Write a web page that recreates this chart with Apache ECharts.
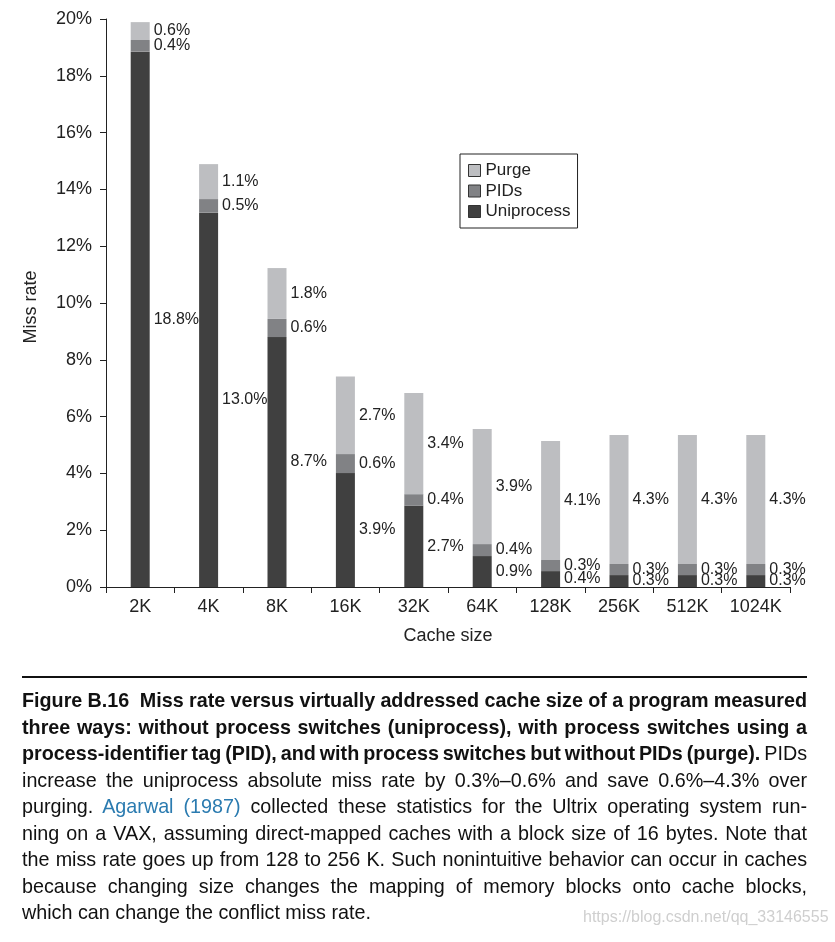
<!DOCTYPE html>
<html>
<head>
<meta charset="utf-8">
<script src="https://cdn.jsdelivr.net/npm/echarts@6/dist/echarts.min.js"></script>
<style>
  html, body { margin: 0; padding: 0; background: #fff; }
  #chart { position: absolute; left: 0; top: 0; width: 835px; height: 942px; }
  #rule { position: absolute; left: 22px; top: 676px; width: 785px; height: 2px; background: #111; }
  #caption { position: absolute; left: 22px; top: 687px;
    font-family: "Liberation Sans", Arial, sans-serif;
    font-size: 21px; color: #111; transform: scaleX(0.94); transform-origin: 0 0; }
  #caption .ln { height: 26.5px; line-height: 26.5px; white-space: nowrap; }
  #caption .ln span.t { display: inline-block; }
  #caption b { font-weight: bold; }
  #caption .link { color: #2b7bb0; }
  #wm { position: absolute; left: 583px; top: 908px; font-family: "Liberation Sans", sans-serif;
    font-size: 16px; color: #cfcfcf; }
</style>
</head>
<body>
<div id="chart"></div>
<div id="rule"></div>
<div id="caption">
  <div class="ln"><span class="t"><b>Figure B.16&nbsp; Miss rate versus virtually addressed cache size of a program measured</b></span></div>
  <div class="ln"><span class="t"><b>three ways: without process switches (uniprocess), with process switches using a</b></span></div>
  <div class="ln"><span class="t"><b>process-identifier tag (PID), and with process switches but without PIDs (purge).</b> PIDs</span></div>
  <div class="ln"><span class="t">increase the uniprocess absolute miss rate by 0.3%–0.6% and save 0.6%–4.3% over</span></div>
  <div class="ln"><span class="t">purging. <span class="link">Agarwal (1987)</span> collected these statistics for the Ultrix operating system run-</span></div>
  <div class="ln"><span class="t">ning on a VAX, assuming direct-mapped caches with a block size of 16 bytes. Note that</span></div>
  <div class="ln"><span class="t">the miss rate goes up from 128 to 256 K. Such nonintuitive behavior can occur in caches</span></div>
  <div class="ln"><span class="t">because changing size changes the mapping of memory blocks onto cache blocks,</span></div>
  <div class="ln last"><span class="t">which can change the conflict miss rate.</span></div>
</div>
<div id="wm">https://blog.csdn.net/qq_33146555</div>
<script>
// justify caption lines to 785px (allowing negative word spacing)
(function () {
  var S = 0.94, target = 785 / S;
  var lines = document.querySelectorAll('#caption .ln');
  for (var i = 0; i < lines.length; i++) {
    if (lines[i].classList.contains('last')) continue;
    var t = lines[i].querySelector('span.t');
    var w = t.getBoundingClientRect().width / S;
    var n = (t.textContent.match(/[ \u00a0]/g) || []).length;
    if (n > 0) t.style.wordSpacing = ((target - w) / n) + 'px';
  }
})();

// ---- data ----
var categories = ['2K', '4K', '8K', '16K', '32K', '64K', '128K', '256K', '512K', '1024K'];
var uniprocess = [18.85, 13.18, 8.80, 4.01, 2.86, 1.09, 0.56, 0.42, 0.42, 0.42];
var pids       = [0.41, 0.48, 0.64, 0.67, 0.41, 0.42, 0.39, 0.39, 0.39, 0.39];
var purge      = [0.63, 1.23, 1.79, 2.73, 3.56, 4.05, 4.19, 4.54, 4.54, 4.54];
var uniLabels   = ['18.8%', '13.0%', '8.7%', '3.9%', '2.7%', '0.9%', '0.4%', '0.3%', '0.3%', '0.3%'];
var pidLabels   = ['0.4%', '0.5%', '0.6%', '0.6%', '0.4%', '0.4%', '0.3%', '0.3%', '0.3%', '0.3%'];
var purgeLabels = ['0.6%', '1.1%', '1.8%', '2.7%', '3.4%', '3.9%', '4.1%', '4.3%', '4.3%', '4.3%'];
var yTicks = [0, 2, 4, 6, 8, 10, 12, 14, 16, 18, 20];

var FONT = '"Liberation Sans", Arial, sans-serif';
var TXT = '#222';

function mkLabel(arr) {
  return {
    show: true, position: 'right', distance: 4,
    fontFamily: FONT, fontSize: 16, color: TXT,
    formatter: function (p) { return arr[p.dataIndex]; }
  };
}

var chart = echarts.init(document.getElementById('chart'));
chart.setOption({
  animation: false,
  textStyle: { fontFamily: FONT },
  grid: { left: 106, right: 45, top: 19, bottom: 355, containLabel: false },
  legend: {
    left: 460, top: 154, orient: 'vertical',
    data: ['Purge', 'PIDs', 'Uniprocess'],
    icon: 'rect', itemWidth: 12, itemHeight: 12, itemGap: 3.5,
    padding: [8, 7, 8, 8],
    borderColor: '#222', borderWidth: 1,
    textStyle: { fontFamily: FONT, fontSize: 17, color: TXT },
    itemStyle: { borderColor: '#333', borderWidth: 1 }
  },
  xAxis: {
    type: 'category', data: categories,
    name: 'Cache size', nameLocation: 'middle', nameGap: 40,
    nameTextStyle: { fontFamily: FONT, fontSize: 18, color: TXT },
    axisLine: { lineStyle: { color: '#222', width: 1 } },
    axisTick: { show: true, length: 6, lineStyle: { color: '#222' } },
    axisLabel: { fontFamily: FONT, fontSize: 18, color: TXT, margin: 11 }
  },
  yAxis: {
    type: 'value', min: 0, max: 20, interval: 2,
    name: 'Miss rate', nameLocation: 'middle', nameGap: 66, nameRotate: 90,
    nameTextStyle: { fontFamily: FONT, fontSize: 18, color: TXT, padding: [0, 8, 0, 0] },
    axisLine: { show: true, lineStyle: { color: '#222', width: 1 } },
    axisTick: { show: true, length: 6, lineStyle: { color: '#222' } },
    splitLine: { show: false },
    axisLabel: {
      fontFamily: FONT, fontSize: 18, color: TXT, margin: 14,
      formatter: function (v) { return yTicks.indexOf(v) >= 0 ? v + '%' : ''; }
    }
  },
  series: [
    { name: 'Uniprocess', type: 'bar', stack: 'm', data: uniprocess, barWidth: 19,
      itemStyle: { color: '#404040' }, label: mkLabel(uniLabels) },
    { name: 'PIDs', type: 'bar', stack: 'm', data: pids, barWidth: 19,
      itemStyle: { color: '#818285' }, label: mkLabel(pidLabels) },
    { name: 'Purge', type: 'bar', stack: 'm', data: purge, barWidth: 19,
      itemStyle: { color: '#bdbec1' }, label: mkLabel(purgeLabels) }
  ]
});
</script>
</body>
</html>
